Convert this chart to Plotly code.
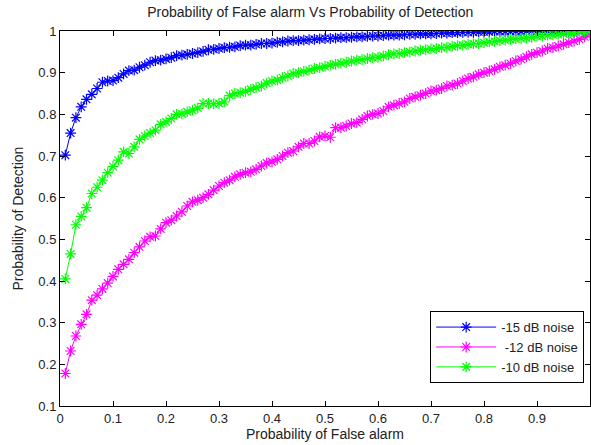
import plotly.graph_objects as go

# Вероятность ложной тревоги (ось X), шаг 0.01
pfa = [round(0.01 * i, 2) for i in range(1, 101)]

# Вероятность обнаружения, -15 dB
pd_15 = [0.702, 0.755, 0.792, 0.818, 0.836, 0.848, 0.862, 0.877, 0.880, 0.881,
         0.888, 0.897, 0.905, 0.906, 0.913, 0.918, 0.925, 0.929, 0.930, 0.933,
         0.936, 0.941, 0.942, 0.944, 0.946, 0.948, 0.951, 0.955, 0.956, 0.958,
         0.960, 0.961, 0.962, 0.965, 0.966, 0.966, 0.968, 0.970, 0.970, 0.971,
         0.973, 0.974, 0.976, 0.977, 0.977, 0.978, 0.979, 0.980, 0.981, 0.982,
         0.982, 0.983, 0.984, 0.984, 0.985, 0.986, 0.986, 0.987, 0.988, 0.988,
         0.989, 0.990, 0.990, 0.990, 0.991, 0.992, 0.992, 0.993, 0.993, 0.993,
         0.994, 0.995, 0.995, 0.996, 0.996, 0.997, 0.997, 0.997, 0.998, 0.998,
         0.998, 0.999, 0.999, 0.999, 0.999, 1.000, 0.999, 1.000, 1.000, 1.000,
         1.000, 1.000, 1.000, 1.000, 1.000, 1.000, 1.000, 1.000, 1.000, 1.000]

# -12 dB
pd_12 = [0.178, 0.232, 0.268, 0.296, 0.320, 0.354, 0.366, 0.381, 0.395, 0.411,
         0.428, 0.440, 0.452, 0.468, 0.482, 0.496, 0.506, 0.508, 0.525, 0.540,
         0.546, 0.556, 0.566, 0.580, 0.590, 0.594, 0.600, 0.608, 0.618, 0.628,
         0.636, 0.642, 0.650, 0.656, 0.660, 0.662, 0.668, 0.676, 0.683, 0.686,
         0.692, 0.700, 0.708, 0.712, 0.722, 0.730, 0.730, 0.736, 0.746, 0.748,
         0.745, 0.768, 0.768, 0.772, 0.778, 0.780, 0.788, 0.796, 0.800, 0.802,
         0.808, 0.818, 0.822, 0.826, 0.830, 0.838, 0.842, 0.846, 0.850, 0.856,
         0.858, 0.862, 0.868, 0.870, 0.874, 0.880, 0.886, 0.890, 0.896, 0.900,
         0.904, 0.908, 0.914, 0.918, 0.922, 0.928, 0.932, 0.938, 0.944, 0.948,
         0.952, 0.958, 0.960, 0.964, 0.968, 0.972, 0.976, 0.980, 0.986, 0.992]

# -10 dB
pd_10 = [0.405, 0.465, 0.535, 0.555, 0.576, 0.610, 0.625, 0.642, 0.660, 0.675,
         0.690, 0.710, 0.706, 0.722, 0.740, 0.748, 0.755, 0.762, 0.776, 0.782,
         0.790, 0.800, 0.801, 0.806, 0.810, 0.815, 0.826, 0.826, 0.825, 0.826,
         0.830, 0.845, 0.850, 0.852, 0.855, 0.860, 0.864, 0.868, 0.875, 0.880,
         0.882, 0.888, 0.892, 0.898, 0.900, 0.903, 0.906, 0.910, 0.912, 0.915,
         0.918, 0.920, 0.923, 0.925, 0.928, 0.930, 0.931, 0.934, 0.936, 0.937,
         0.940, 0.943, 0.945, 0.946, 0.948, 0.950, 0.952, 0.954, 0.955, 0.957,
         0.958, 0.960, 0.961, 0.963, 0.965, 0.966, 0.968, 0.969, 0.970, 0.972,
         0.974, 0.975, 0.977, 0.978, 0.980, 0.981, 0.982, 0.983, 0.985, 0.987,
         0.988, 0.990, 0.991, 0.992, 0.993, 0.995, 0.996, 0.997, 0.998, 1.000]

series = [("-15 dB noise", pd_15, "#0000ff"),
          (" -12 dB noise", pd_12, "#ff00ff"),
          ("-10 dB noise", pd_10, "#00ff00")]

x_ticks = [0, 0.1, 0.2, 0.3, 0.4, 0.5, 0.6, 0.7, 0.8, 0.9, 1]
x_labels = ["0", "0.1", "0.2", "0.3", "0.4", "0.5", "0.6", "0.7", "0.8", "0.9", "1"]
y_ticks = [0.1, 0.2, 0.3, 0.4, 0.5, 0.6, 0.7, 0.8, 0.9, 1]
y_labels = ["0.1", "0.2", "0.3", "0.4", "0.5", "0.6", "0.7", "0.8", "0.9", "1"]

fig = go.Figure()
for name, vals, col in series:
    fig.add_trace(go.Scatter(x=pfa, y=vals, name=name, mode='lines+markers',
                             line=dict(color=col, width=1),
                             marker=dict(symbol='asterisk-open', size=9,
                                         line=dict(color=col, width=1.2))))

font = dict(family='Liberation Sans, Arial, sans-serif', size=13, color='#222')

fig.update_layout(
    width=591, height=445,
    margin=dict(l=60, r=1, t=31, b=39),
    paper_bgcolor='white', plot_bgcolor='white',
    font=font,
    title=dict(text='Probability of False alarm Vs Probability of Detection',
               x=0.525, xanchor='center', y=0.972, yanchor='middle',
               font=dict(size=14)),
    legend=dict(x=0.989, y=0.061, xanchor='right', yanchor='bottom',
                bgcolor='white', bordercolor='black', borderwidth=1,
                font=dict(size=13), tracegroupgap=0, itemwidth=60),
    showlegend=True,
    # подпись оси Y ставим аннотацией, чтобы сдвинуть её ближе к краю
    annotations=[dict(text='Probability of Detection', textangle=-90,
                      xref='paper', yref='paper', x=-0.081, y=0.5,
                      xanchor='center', yanchor='middle', showarrow=False,
                      font=dict(size=14))],
)
fig.update_xaxes(range=[0, 1], tickvals=x_ticks, ticktext=x_labels,
                 ticks='inside', ticklen=5, tickcolor='black',
                 showline=True, linecolor='black', linewidth=1, mirror='ticks',
                 showgrid=False, zeroline=False, automargin=False,
                 title=dict(text='Probability of False alarm', standoff=0,
                            font=dict(size=14)))
fig.update_yaxes(range=[0.1, 1], tickvals=y_ticks, ticktext=y_labels,
                 ticks='inside', ticklen=5, tickcolor='black',
                 showline=True, linecolor='black', linewidth=1, mirror='ticks',
                 showgrid=False, zeroline=False, automargin=False)

# убираем отступ body, чтобы картинка легла ровно в окно
fig.write_html("out.html", config={'displayModeBar': False},
               post_script="document.body.style.margin='0';document.body.style.overflow='hidden';")
